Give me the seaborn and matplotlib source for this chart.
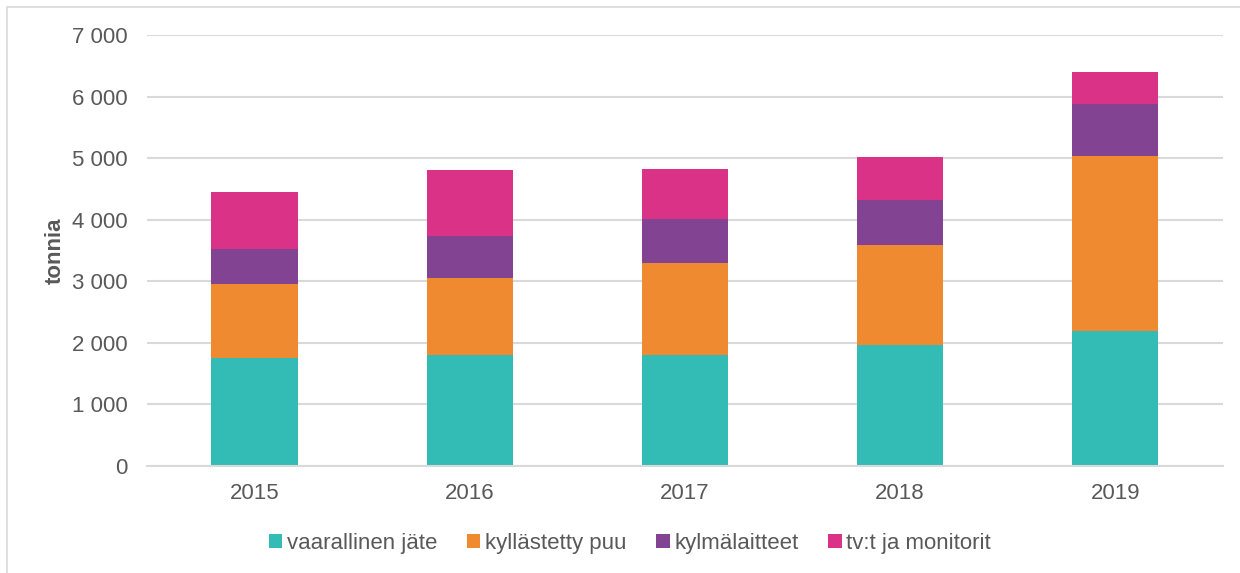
import pandas as pd
import matplotlib.pyplot as plt
import seaborn as sns
from matplotlib.patches import Patch, Rectangle
from matplotlib.ticker import FuncFormatter

sns.set_style('white')
plt.rcParams['font.family'] = ['Liberation Sans', 'DejaVu Sans']

years = ['2015', '2016', '2017', '2018', '2019']
vaarallinen = [1756, 1806, 1795, 1968, 2195]
kyllastetty = [1192, 1249, 1508, 1621, 2832]
kylmalaitteet = [576, 675, 702, 730, 849]
tv_monitorit = [925, 1076, 822, 703, 524]

labels = ['vaarallinen jäte', 'kyllästetty puu', 'kylmälaitteet', 'tv:t ja monitorit']
colors = ['#33bbb5', '#f08a30', '#824492', '#d93287']
text_color = '#595959'
grid_color = '#d9d9d9'

df = pd.DataFrame({
    labels[0]: vaarallinen,
    labels[1]: kyllastetty,
    labels[2]: kylmalaitteet,
    labels[3]: tv_monitorit,
}, index=years)
cum = df.cumsum(axis=1)

fig = plt.figure(figsize=(12.4, 5.73), dpi=100)
ax = fig.add_axes([0.1185, 0.1867, 0.8677, 0.7523])

# stacked bars: draw cumulative totals from top to bottom
for col, color in reversed(list(zip(labels, colors))):
    sns.barplot(x=cum.index, y=cum[col].values, color=color, width=0.4,
                linewidth=0, saturation=1, ax=ax, zorder=2)

ax.set_ylim(0, 7000)
ax.set_xlim(-0.5, 4.5)
ax.set_yticks(range(0, 7001, 1000))
ax.yaxis.set_major_formatter(FuncFormatter(lambda v, p: f'{int(v):,}'.replace(',', ' ')))
ax.grid(axis='y', color=grid_color, linewidth=1.5, zorder=0)
ax.set_axisbelow(True)
for s in ['top', 'right', 'left']:
    ax.spines[s].set_visible(False)
ax.spines['bottom'].set_color(grid_color)
ax.spines['bottom'].set_linewidth(1.5)
ax.tick_params(axis='both', length=0, labelsize=16, colors=text_color)
ax.tick_params(axis='y', pad=14)
ax.tick_params(axis='x', pad=12)
ax.set_xlabel('')
ax.set_ylabel('tonnia', fontsize=16, fontweight='bold', color=text_color, labelpad=4)

handles = [Patch(facecolor=c, edgecolor='none') for c in colors]
fig.legend(handles, labels, loc='center', bbox_to_anchor=(0.508, 0.052), ncol=4,
           frameon=False, fontsize=16, labelcolor=text_color,
           handlelength=0.6, handleheight=0.6, handletextpad=0.2, columnspacing=1.35)

# chart area border
fig.patches.append(Rectangle((7 / 1240, -0.05), 1.2, 1 - 7 / 573 + 0.05,
                             transform=fig.transFigure, fill=False,
                             edgecolor=grid_color, linewidth=1.2))

fig.savefig('out.png', dpi=100)
